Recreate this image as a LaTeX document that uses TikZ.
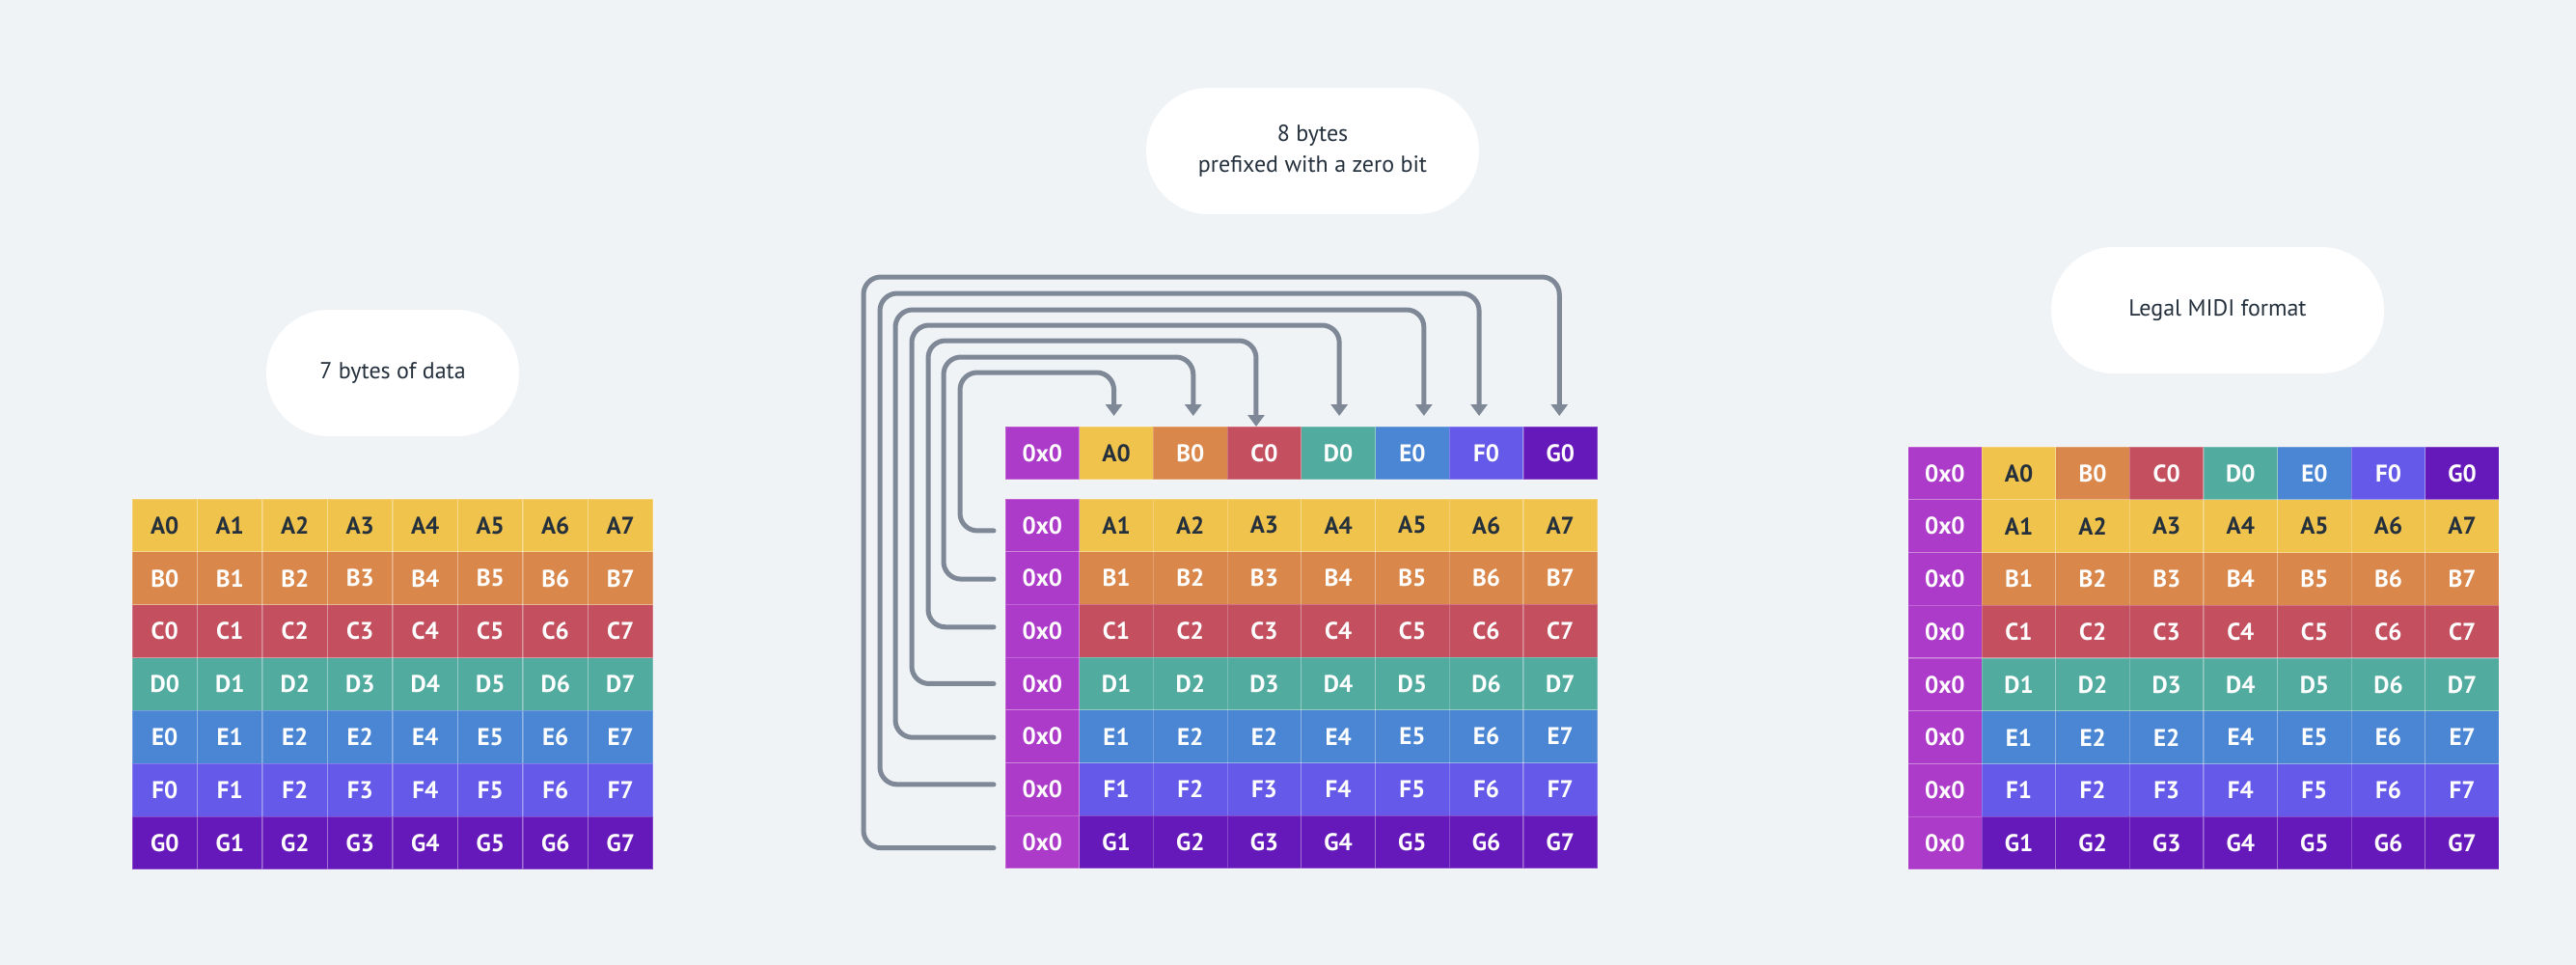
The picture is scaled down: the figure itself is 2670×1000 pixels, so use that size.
\documentclass[tikz,border=0pt]{standalone}
\usepackage{fontspec}
\setmainfont{PT Sans}
\newfontfamily\cellfont{PT Sans}
\newfontfamily\bubfont{PT Sans}
\usetikzlibrary{arrows.meta,calc}
\definecolor{bg}{HTML}{F0F3F6}
\definecolor{ink}{HTML}{25303D}
\definecolor{cA}{HTML}{F0C34D}
\definecolor{cB}{HTML}{D9874A}
\definecolor{cC}{HTML}{C34F5F}
\definecolor{cD}{HTML}{52AB9F}
\definecolor{cE}{HTML}{4A86D4}
\definecolor{cF}{HTML}{6459E8}
\definecolor{cG}{HTML}{6619BA}
\definecolor{cZ}{HTML}{AD3BC9}
\definecolor{wire}{HTML}{7E8896}
\newcommand\lab[2]{\if#1E\ifnum#2=3 E2\else#1#2\fi\else#1#2\fi}
\begin{document}
\begin{tikzpicture}[x=1pt,y=-1pt,
  cellbox/.style={inner sep=0pt, outer sep=0pt, anchor=north west, draw=white, draw opacity=0.22, line width=1.2pt,
    font=\cellfont\bfseries\fontsize{25}{28}\selectfont},
  bubble/.style={fill=white, rounded corners=65pt, inner sep=0pt, align=center, text=ink,
    font=\bubfont\fontsize{24}{32}\selectfont},
  conn/.style={draw=wire, line width=5pt, rounded corners=18pt, line cap=round,
    -{Triangle[width=17pt,length=12pt]}}]
\fill[bg] (0,0) rectangle (2670,1000);
\useasboundingbox (0,0) rectangle (2670,1000);

% bubbles
\node[bubble, minimum width=262pt, minimum height=131pt] (b1) at (407,386.5) {7 bytes of data};
\node[bubble, minimum width=345pt, minimum height=131pt] (b2) at (1360.5,156.5) {8 bytes\\prefixed with a zero bit};
\node[bubble, minimum width=345pt, minimum height=131pt] (b3) at (2298.5,321.5) {Legal MIDI format};

% left grid: 7 bytes of data
\foreach \L/\c/\tc [count=\r from 0] in {A/cA/ink,B/cB/white,C/cC/white,D/cD/white,E/cE/white,F/cF/white,G/cG/white}{
  \foreach \k in {0,...,7}{
    \node[cellbox, fill=\c, text=\tc, minimum width=67.5pt, minimum height=54.86pt]
      (L-\L\k) at ({137+\k*67.5},{517+\r*54.86}) {\lab{\L}{\k}};
  }
}

% middle grid: top row
\node[cellbox, fill=cZ, text=white, minimum width=76.7pt, minimum height=55pt] (T-Z) at (1042,442) {0x0};
\foreach \L/\c/\tc [count=\i from 1] in {A/cA/ink,B/cB/white,C/cC/white,D/cD/white,E/cE/white,F/cF/white,G/cG/white}{
  \node[cellbox, fill=\c, text=\tc, minimum width=76.7pt, minimum height=55pt]
    (T-\L) at ({1042+\i*76.7},442) {\L0};
}
% middle grid: main rows
\foreach \L/\c/\tc [count=\r from 0] in {A/cA/ink,B/cB/white,C/cC/white,D/cD/white,E/cE/white,F/cF/white,G/cG/white}{
  \node[cellbox, fill=cZ, text=white, minimum width=76.7pt, minimum height=54.71pt]
    (M-\L0) at (1042,{517+\r*54.71}) {0x0};
  \foreach \k in {1,...,7}{
    \node[cellbox, fill=\c, text=\tc, minimum width=76.7pt, minimum height=54.71pt]
      (M-\L\k) at ({1042+\k*76.7},{517+\r*54.71}) {\lab{\L}{\k}};
  }
}

% right grid: legal MIDI format
\node[cellbox, fill=cZ, text=white, minimum width=76.6pt, minimum height=54.75pt] (R-Z) at (1977.6,463) {0x0};
\foreach \L/\c/\tc [count=\i from 1] in {A/cA/ink,B/cB/white,C/cC/white,D/cD/white,E/cE/white,F/cF/white,G/cG/white}{
  \node[cellbox, fill=\c, text=\tc, minimum width=76.6pt, minimum height=54.75pt]
    (R-T\L) at ({1977.6+\i*76.6},463) {\L0};
}
\foreach \L/\c/\tc [count=\r from 1] in {A/cA/ink,B/cB/white,C/cC/white,D/cD/white,E/cE/white,F/cF/white,G/cG/white}{
  \node[cellbox, fill=cZ, text=white, minimum width=76.6pt, minimum height=54.75pt]
    (R-\L0) at (1977.6,{463+\r*54.75}) {0x0};
  \foreach \k in {1,...,7}{
    \node[cellbox, fill=\c, text=\tc, minimum width=76.6pt, minimum height=54.75pt]
      (R-\L\k) at ({1977.6+\k*76.6},{463+\r*54.75}) {\lab{\L}{\k}};
  }
}

% connectors: each byte's first bit is moved up into the new top byte
\foreach \L/\xv/\yh/\dy/\dx/\gap in {A/995/386/5.6/-2.5/-11, B/978/370/1/3/-11, C/962/353/-4/-8.5/0,
    D/945/337/0/1/-11, E/928/321/1/12/-11, F/912/304/-5/-7.5/-11, G/895/287/6/-1/-11}{
  \coordinate (s\L) at ($(M-\L0.west)+(-12,\dy)$);
  \coordinate (e\L) at ($(T-\L.north)+(\dx,\gap)$);
  \draw[conn] (s\L) -| (\xv,\yh) -| (e\L);
}
\end{tikzpicture}
\end{document}
